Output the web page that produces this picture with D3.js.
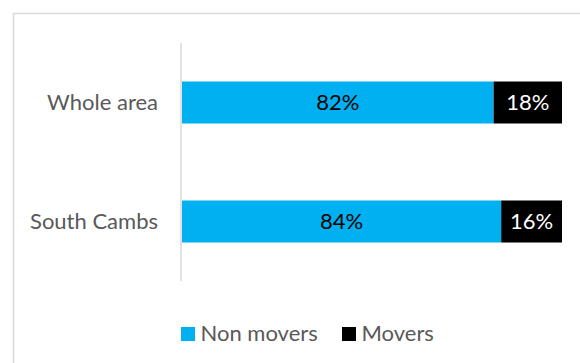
<!DOCTYPE html>
<html>
<head>
<meta charset="utf-8">
<script src="https://cdn.jsdelivr.net/npm/d3@7"></script>
<style>
  html, body { margin: 0; padding: 0; background: #ffffff; }
  svg { display: block; font-family: Lato, "Open Sans", sans-serif; }
</style>
</head>
<body>
<svg id="chart" width="580" height="363"></svg>
<script>
// Share of residents who did / did not move, by area
const categories = ["Whole area", "South Cambs"];
const nonMovers = [82, 84];
const movers = [18, 16];
const seriesNames = ["Non movers", "Movers"];
const seriesColors = ["#00b0f0", "#000000"];
const labelColors = ["#000000", "#ffffff"];

const fontSize = 22;
const svg = d3.select("#chart");

// Chart frame
svg.append("rect")
  .attr("x", 13.5).attr("y", 13.5)
  .attr("width", 600).attr("height", 400)
  .attr("fill", "#ffffff")
  .attr("stroke", "#d9d9d9")
  .attr("stroke-width", 1.5);

const plot = { left: 182, right: 562, top: 43, bottom: 281 };

const x = d3.scaleLinear().domain([0, 100]).range([plot.left, plot.right]);
const y = d3.scaleBand().domain(categories)
  .range([plot.top, plot.bottom])
  .paddingInner(0.647).paddingOuter(0.3235);

// Stack the two series per category
const rows = categories.map((c, i) => ({ category: c, "Non movers": nonMovers[i], "Movers": movers[i] }));
const stacked = d3.stack().keys(seriesNames)(rows);

const layers = svg.append("g").selectAll("g")
  .data(stacked)
  .join("g")
  .attr("fill", (d, i) => seriesColors[i]);

layers.selectAll("rect")
  .data(d => d)
  .join("rect")
  .attr("x", d => x(d[0]))
  .attr("y", d => y(d.data.category))
  .attr("width", d => x(d[1]) - x(d[0]))
  .attr("height", y.bandwidth());

// Value labels centred in each segment
stacked.forEach((layer, i) => {
  svg.append("g").selectAll("text")
    .data(layer)
    .join("text")
    .attr("x", d => (x(d[0]) + x(d[1])) / 2)
    .attr("y", d => y(d.data.category) + y.bandwidth() / 2)
    .attr("dy", "0.36em")
    .attr("text-anchor", "middle")
    .attr("font-size", fontSize)
    .attr("fill", labelColors[i])
    .text(d => (d[1] - d[0]) + "%");
});

// Category axis
const yAxis = svg.append("g")
  .attr("transform", `translate(${plot.left - 1},0)`)
  .call(d3.axisLeft(y).tickSize(0).tickPadding(23));
yAxis.select(".domain")
  .attr("d", `M0,${plot.top}V${plot.bottom}`)
  .attr("stroke", "#d9d9d9")
  .attr("stroke-width", 1.5);
yAxis.selectAll(".tick text")
  .attr("font-size", fontSize)
  .attr("font-family", "Lato, sans-serif")
  .attr("fill", "#595959")
  .attr("dy", "0.36em");

// Legend
const legendItems = [
  { name: seriesNames[0], color: seriesColors[0], x: 181 },
  { name: seriesNames[1], color: seriesColors[1], x: 342 }
];
const legend = svg.append("g").selectAll("g")
  .data(legendItems)
  .join("g")
  .attr("transform", d => `translate(${d.x},327)`);
legend.append("rect")
  .attr("width", 14).attr("height", 14)
  .attr("fill", d => d.color);
legend.append("text")
  .attr("x", 19.5).attr("y", 13.5)
  .attr("font-size", fontSize)
  .attr("fill", "#595959")
  .text(d => d.name);
</script>
</body>
</html>
